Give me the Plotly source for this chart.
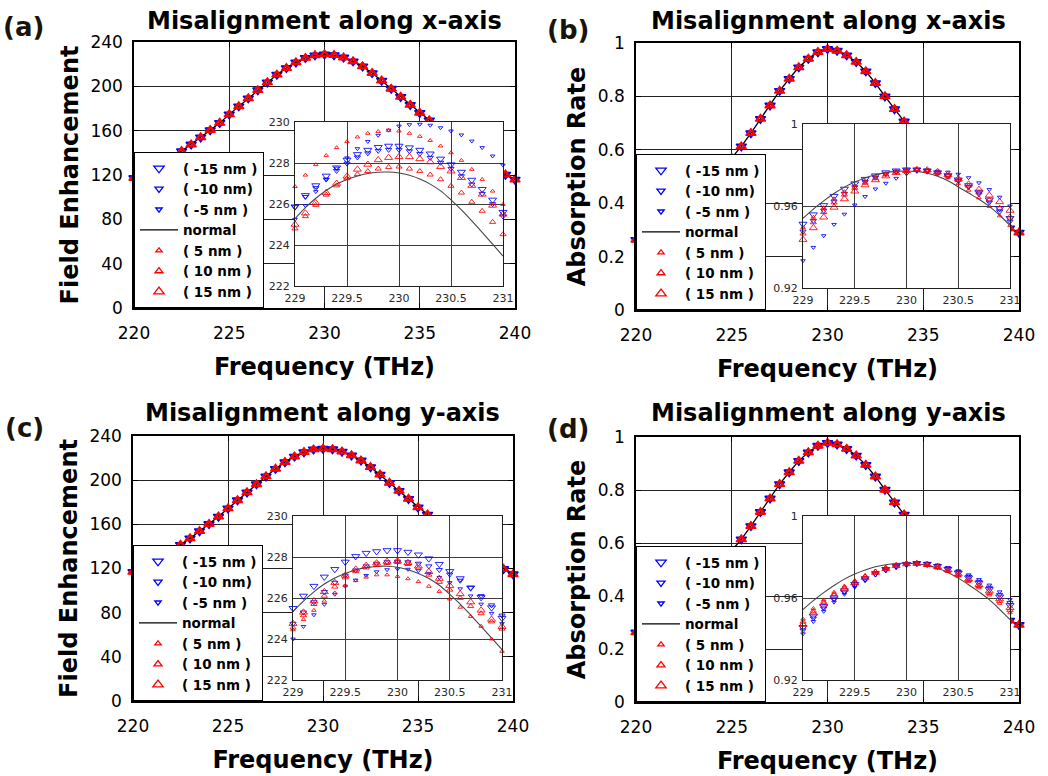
import plotly.graph_objects as go

W, H = 1048, 776
FONT = "DejaVu Sans"

# ---------------- data ----------------
freq_main = [220.0, 220.5, 221.0, 221.5, 222.0, 222.5, 223.0, 223.5, 224.0, 224.5,
             225.0, 225.5, 226.0, 226.5, 227.0, 227.5, 228.0, 228.5, 229.0, 229.5,
             230.0, 230.5, 231.0, 231.5, 232.0, 232.5, 233.0, 233.5, 234.0, 234.5,
             235.0, 235.5, 236.0, 236.5, 237.0, 237.5, 238.0, 238.5, 239.0, 239.5, 240.0]

freq_inset = [229.0, 229.1, 229.2, 229.3, 229.4, 229.5, 229.6, 229.7, 229.8, 229.9,
              230.0, 230.1, 230.2, 230.3, 230.4, 230.5, 230.6, 230.7, 230.8, 230.9, 231.0]

series_names = ["( -15 nm )", "( -10 nm)", "( -5 nm )", "normal", "( 5 nm )", "( 10 nm )", "( 15 nm )"]

# (a) field enhancement, x misalignment - main curve
fe_x_main = [117.3, 121.0, 125.5, 130.5, 136.0, 141.6, 147.5, 154.0, 160.5, 167.0,
             174.7, 182.0, 189.2, 196.5, 203.6, 210.5, 216.5, 221.6, 225.6, 228.0,
             228.8, 228.2, 226.0, 222.6, 218.0, 212.0, 205.1, 197.8, 190.5, 183.3,
             176.0, 169.3, 162.8, 156.2, 149.6, 143.0, 136.8, 130.8, 125.2, 120.3, 115.8]
# (c) field enhancement, y misalignment - main curve
fe_y_main = [117.0, 120.8, 125.3, 130.3, 135.8, 141.4, 147.3, 153.8, 160.3, 167.0,
             174.4, 181.8, 189.0, 196.3, 203.4, 210.3, 216.3, 221.4, 225.4, 227.8,
             228.5, 228.0, 225.8, 222.4, 217.8, 211.8, 205.0, 197.6, 190.3, 183.0,
             175.4, 168.8, 162.3, 155.8, 149.2, 142.6, 136.4, 130.4, 124.8, 119.6, 114.8]
# (b) absorption, x misalignment - main curve
ar_x_main = [0.2625, 0.282, 0.304, 0.328, 0.354, 0.383, 0.415, 0.450, 0.487, 0.527,
             0.569, 0.6125, 0.6625, 0.716, 0.766, 0.821, 0.866, 0.909, 0.941, 0.966,
             0.9775, 0.971, 0.954, 0.929, 0.894, 0.850, 0.800, 0.7525, 0.706, 0.660,
             0.613, 0.568, 0.525, 0.485, 0.449, 0.415, 0.385, 0.356, 0.330, 0.306, 0.290]
# (d) absorption, y misalignment - main curve
ar_y_main = [0.263, 0.283, 0.305, 0.329, 0.355, 0.384, 0.416, 0.451, 0.489, 0.529,
             0.571, 0.614, 0.664, 0.717, 0.768, 0.822, 0.867, 0.910, 0.942, 0.967,
             0.978, 0.972, 0.955, 0.930, 0.895, 0.851, 0.801, 0.753, 0.707, 0.661,
             0.614, 0.569, 0.526, 0.486, 0.450, 0.416, 0.386, 0.357, 0.331, 0.307, 0.291]

# ---- inset (a) ----
fx_in_m15 = [225.87, 226.42, 226.90, 227.37, 227.77, 228.15, 228.42, 228.63, 228.77, 228.83, 228.83,
             228.75, 228.63, 228.45, 228.20, 227.92, 227.56, 227.17, 226.72, 226.20, 225.60]
fx_in_m10 = [225.85, 226.35, 226.78, 227.20, 227.62, 227.98, 228.28, 228.48, 228.60, 228.65, 228.65,
             228.58, 228.45, 228.26, 228.02, 227.72, 227.36, 226.96, 226.50, 226.00, 225.40]
fx_in_m5 = [225.25, 225.92, 226.60, 227.20, 227.75, 228.25, 228.70, 229.05, 229.35, 229.60, 229.80,
            229.87, 229.89, 229.84, 229.72, 229.56, 229.37, 229.07, 228.75, 228.34, 227.90]
fx_in_p5 = [226.85, 227.41, 227.92, 228.37, 228.75, 229.04, 229.27, 229.45, 229.54, 229.59, 229.56,
            229.45, 229.30, 229.10, 228.83, 228.50, 228.13, 227.69, 227.20, 226.63, 225.98]
fx_in_p10 = [224.80, 225.40, 225.95, 226.45, 226.90, 227.25, 227.45, 227.60, 227.72, 227.80, 227.82,
             227.72, 227.60, 227.43, 227.20, 226.88, 226.55, 226.10, 225.66, 225.12, 224.52]
fx_in_p15 = [225.00, 225.55, 226.05, 226.55, 227.00, 227.35, 227.69, 227.93, 228.15, 228.26, 228.30,
             228.30, 228.20, 228.05, 227.82, 227.60, 227.28, 226.90, 226.47, 225.93, 225.50]
fx_in_norm = [225.28, 225.82, 226.28, 226.66, 226.97, 227.20, 227.37, 227.49, 227.55, 227.56, 227.51,
              227.40, 227.22, 226.97, 226.64, 226.20, 225.71, 225.18, 224.62, 224.04, 223.46]

# ---- inset (b) ----
ax_in_m15 = [0.9512, 0.9558, 0.9603, 0.9648, 0.9683, 0.9709, 0.9731, 0.9748, 0.9763, 0.9772, 0.9777,
             0.9777, 0.9772, 0.9763, 0.9749, 0.9728, 0.9700, 0.9668, 0.9630, 0.9588, 0.9540]
ax_in_m10 = [0.9476, 0.9528, 0.9577, 0.9622, 0.9660, 0.9692, 0.9718, 0.9739, 0.9756, 0.9768, 0.9775,
             0.9777, 0.9773, 0.9762, 0.9746, 0.9723, 0.9693, 0.9658, 0.9618, 0.9573, 0.9525]
ax_in_m5 = [0.9333, 0.9398, 0.9455, 0.9510, 0.9560, 0.9605, 0.9646, 0.9683, 0.9711, 0.9735, 0.9757,
            0.9770, 0.9772, 0.9770, 0.9765, 0.9755, 0.9738, 0.9713, 0.9680, 0.9643, 0.9600]
ax_in_p5 = [0.9495, 0.9545, 0.9592, 0.9635, 0.9670, 0.9700, 0.9724, 0.9743, 0.9759, 0.9770, 0.9776,
            0.9777, 0.9770, 0.9757, 0.9737, 0.9710, 0.9677, 0.9640, 0.9598, 0.9552, 0.9505]
ax_in_p10 = [0.9465, 0.9520, 0.9570, 0.9617, 0.9655, 0.9688, 0.9713, 0.9735, 0.9753, 0.9766, 0.9773,
             0.9776, 0.9772, 0.9762, 0.9747, 0.9726, 0.9698, 0.9666, 0.9630, 0.9590, 0.9548]
ax_in_p15 = [0.9436, 0.9493, 0.9545, 0.9593, 0.9634, 0.9672, 0.9702, 0.9727, 0.9746, 0.9762, 0.9772,
             0.9777, 0.9775, 0.9767, 0.9753, 0.9732, 0.9706, 0.9680, 0.9652, 0.9620, 0.9578]
ax_in_norm = [0.9540, 0.9585, 0.9625, 0.9661, 0.9692, 0.9717, 0.9737, 0.9752, 0.9763, 0.9769, 0.9771,
              0.9768, 0.9760, 0.9745, 0.9723, 0.9693, 0.9663, 0.9633, 0.9598, 0.9555, 0.9505]

# ---- inset (c) ----
fy_in_m15 = [225.50, 226.10, 226.58, 227.03, 227.40, 227.76, 228.03, 228.19, 228.27, 228.32, 228.32,
             228.24, 228.11, 227.92, 227.65, 227.30, 226.95, 226.50, 226.03, 225.53, 225.02]
fy_in_m10 = [224.75, 225.30, 225.80, 226.30, 226.75, 227.10, 227.35, 227.55, 227.68, 227.75, 227.78,
             227.75, 227.68, 227.55, 227.37, 227.15, 226.85, 226.50, 226.10, 225.65, 225.15]
fy_in_m5 = [224.00, 224.61, 225.18, 225.69, 226.18, 226.58, 226.87, 227.10, 227.28, 227.38, 227.42,
            227.40, 227.33, 227.20, 227.00, 226.75, 226.45, 226.10, 225.70, 225.25, 224.75]
fy_in_p5 = [224.45, 224.95, 225.40, 225.85, 226.25, 226.60, 226.85, 227.02, 227.13, 227.13, 227.05,
            226.94, 226.80, 226.57, 226.32, 225.95, 225.55, 225.10, 224.62, 224.00, 223.40]
fy_in_p10 = [224.55, 225.15, 225.70, 226.10, 226.55, 227.00, 227.30, 227.48, 227.60, 227.70, 227.75,
             227.65, 227.46, 227.13, 226.78, 226.40, 226.00, 225.60, 225.25, 224.85, 224.50]
fy_in_p15 = [224.75, 225.30, 225.85, 226.30, 226.75, 227.10, 227.40, 227.58, 227.70, 227.78, 227.80,
             227.72, 227.55, 227.28, 226.95, 226.60, 226.20, 225.80, 225.40, 224.95, 224.60]
fy_in_norm = [225.34, 225.85, 226.30, 226.68, 226.98, 227.20, 227.37, 227.48, 227.54, 227.55, 227.50,
              227.38, 227.20, 226.95, 226.62, 226.18, 225.70, 225.17, 224.62, 224.05, 223.48]

# ---- inset (d) ----
ay_in_m15 = [0.9457, 0.9513, 0.9560, 0.9601, 0.9636, 0.9667, 0.9695, 0.9720, 0.9740, 0.9755, 0.9765,
             0.9769, 0.9765, 0.9755, 0.9741, 0.9722, 0.9699, 0.9673, 0.9642, 0.9606, 0.9564]
ay_in_m10 = [0.9443, 0.9501, 0.9549, 0.9592, 0.9628, 0.9661, 0.9690, 0.9717, 0.9738, 0.9753, 0.9764,
             0.9770, 0.9767, 0.9757, 0.9744, 0.9727, 0.9705, 0.9680, 0.9651, 0.9616, 0.9576]
ay_in_m5 = [0.9425, 0.9485, 0.9535, 0.9580, 0.9618, 0.9653, 0.9684, 0.9712, 0.9734, 0.9751, 0.9763,
            0.9771, 0.9769, 0.9761, 0.9749, 0.9733, 0.9713, 0.9690, 0.9663, 0.9630, 0.9592]
ay_in_p5 = [0.9497, 0.9549, 0.9591, 0.9628, 0.9658, 0.9685, 0.9710, 0.9731, 0.9748, 0.9761, 0.9768,
            0.9766, 0.9759, 0.9747, 0.9730, 0.9707, 0.9681, 0.9650, 0.9615, 0.9574, 0.9528]
ay_in_p10 = [0.9484, 0.9537, 0.9581, 0.9619, 0.9651, 0.9679, 0.9705, 0.9728, 0.9746, 0.9759, 0.9767,
             0.9767, 0.9761, 0.9749, 0.9733, 0.9712, 0.9687, 0.9658, 0.9624, 0.9585, 0.9540]
ay_in_p15 = [0.9470, 0.9525, 0.9570, 0.9610, 0.9643, 0.9673, 0.9700, 0.9724, 0.9743, 0.9757, 0.9766,
             0.9768, 0.9763, 0.9752, 0.9737, 0.9717, 0.9693, 0.9665, 0.9633, 0.9595, 0.9552]
ay_in_norm = [0.9544, 0.9587, 0.9626, 0.9661, 0.9692, 0.9717, 0.9737, 0.9752, 0.9762, 0.9768, 0.9770,
              0.9767, 0.9759, 0.9745, 0.9724, 0.9697, 0.9665, 0.9630, 0.9592, 0.9545, 0.9495]

# ---------------- styling ----------------
BLUE = "rgb(0,0,255)"
RED = "rgb(255,0,0)"
sym = ["triangle-down-open"] * 3 + [None] + ["triangle-up-open"] * 3
col = [BLUE] * 3 + ["black"] + [RED] * 3
size_main = [9, 7, 5.5, None, 5.5, 7, 9]
size_in = [7, 5.4, 4, None, 4, 5.4, 7]

panels = [
    dict(main=fe_x_main, ins=[fx_in_m15, fx_in_m10, fx_in_m5, fx_in_norm, fx_in_p5, fx_in_p10, fx_in_p15],
         mbox=(134, 515, 42, 308), ibox=(295, 503, 122, 286), leg="legend",
         yr=[0, 240], ydt=40, iyr=[222, 230], iydt=2, ytitle="Field Enhancement",
         title="Misalignment along x-axis", label="(a)", title_xy=(324, 21), label_xy=(23, 27)),
    dict(main=ar_x_main, ins=[ax_in_m15, ax_in_m10, ax_in_m5, ax_in_norm, ax_in_p5, ax_in_p10, ax_in_p15],
         mbox=(636, 1019, 43, 310), ibox=(803, 1010, 124, 288), leg="legend2",
         yr=[0, 1], ydt=0.2, iyr=[0.92, 1.0], iydt=0.04, ytitle="Absorption Rate",
         title="Misalignment along x-axis", label="(b)", title_xy=(828, 21), label_xy=(568, 30)),
    dict(main=fe_y_main, ins=[fy_in_m15, fy_in_m10, fy_in_m5, fy_in_norm, fy_in_p5, fy_in_p10, fy_in_p15],
         mbox=(133, 513, 436, 701), ibox=(293, 502, 516, 680), leg="legend3",
         yr=[0, 240], ydt=40, iyr=[222, 230], iydt=2, ytitle="Field Enhancement",
         title="Misalignment along y-axis", label="(c)", title_xy=(322, 413), label_xy=(24, 428)),
    dict(main=ar_y_main, ins=[ay_in_m15, ay_in_m10, ay_in_m5, ay_in_norm, ay_in_p5, ay_in_p10, ay_in_p15],
         mbox=(636, 1019, 437, 702), ibox=(803, 1010, 516, 680), leg="legend4",
         yr=[0, 1], ydt=0.2, iyr=[0.92, 1.0], iydt=0.04, ytitle="Absorption Rate",
         title="Misalignment along y-axis", label="(d)", title_xy=(828, 413), label_xy=(568, 429)),
]


def dx(a, b):
    return [a / W, b / W]


def dy(top, bottom):
    return [1 - bottom / H, 1 - top / H]


fig = go.Figure()
layout = {}
annotations = []

for i, p in enumerate(panels):
    mi, ii = 2 * i + 1, 2 * i + 2
    mx = "x" if mi == 1 else f"x{mi}"
    my = "y" if mi == 1 else f"y{mi}"
    ix, iy = f"x{ii}", f"y{ii}"

    # main traces
    for k in range(7):
        if sym[k] is None:
            fig.add_trace(go.Scatter(x=freq_main, y=p["main"], mode="lines", name=series_names[k],
                                     line=dict(color="black", width=1.3), xaxis=mx, yaxis=my,
                                     legend=p["leg"], cliponaxis=False))
        else:
            fig.add_trace(go.Scatter(x=freq_main, y=p["main"], mode="markers", name=series_names[k],
                                     marker=dict(symbol=sym[k], size=size_main[k], color=col[k],
                                                 line=dict(width=1.3, color=col[k])),
                                     xaxis=mx, yaxis=my, legend=p["leg"], cliponaxis=False))
    # inset traces
    for k in range(7):
        if sym[k] is None:
            fig.add_trace(go.Scatter(x=freq_inset, y=p["ins"][k], mode="lines", name=series_names[k],
                                     line=dict(color="rgb(70,70,70)", width=1.1, shape="spline"),
                                     xaxis=ix, yaxis=iy, showlegend=False))
        else:
            fig.add_trace(go.Scatter(x=freq_inset, y=p["ins"][k], mode="markers", name=series_names[k],
                                     marker=dict(symbol=sym[k], size=size_in[k], color=col[k], opacity=0.85,
                                                 line=dict(width=1.0, color=col[k])),
                                     xaxis=ix, yaxis=iy, showlegend=False, cliponaxis=False))

    x0, x1, y0, y1 = p["mbox"]
    common_main = dict(showline=True, linecolor="black", linewidth=1.5, mirror="ticks",
                       ticks="inside", ticklen=5, tickwidth=1, tickcolor="black",
                       showgrid=True, gridcolor="rgb(35,35,35)", gridwidth=1, zeroline=False,
                       automargin=False,
                       tickfont=dict(family=FONT, size=17, color="black"))
    layout["xaxis" if mi == 1 else f"xaxis{mi}"] = dict(
        common_main, domain=dx(x0, x1), range=[220, 240], tick0=220, dtick=5, anchor=my,
        ticklabelstandoff=9,
        title=dict(text="Frequency (THz)", standoff=16,
                   font=dict(family=FONT, size=24, color="black", weight="bold")))
    layout["yaxis" if mi == 1 else f"yaxis{mi}"] = dict(
        common_main, domain=dy(y0, y1), range=p["yr"], tick0=0, dtick=p["ydt"], anchor=mx,
        ticklabelstandoff=6,
        title=dict(text=p["ytitle"], standoff=5,
                   font=dict(family=FONT, size=24, color="black", weight="bold")))

    a0, a1, b0, b1 = p["ibox"]
    common_in = dict(showline=True, linecolor="rgb(30,30,30)", linewidth=1, mirror=True,
                     ticks="", showgrid=True, gridcolor="rgb(60,60,60)", gridwidth=1, zeroline=False,
                     automargin=False,
                     tickfont=dict(family=FONT, size=11, color="rgb(40,40,40)"))
    layout[f"xaxis{ii}"] = dict(common_in, domain=dx(a0, a1), range=[229, 231], tick0=229, dtick=0.5,
                                anchor=iy, ticklabelstandoff=2)
    layout[f"yaxis{ii}"] = dict(common_in, domain=dy(b0, b1), range=p["iyr"], dtick=p["iydt"],
                                tick0=p["iyr"][0], anchor=ix, ticklabelstandoff=2)

    layout[p["leg"]] = dict(x=x0 / W, y=1 - y1 / H, xanchor="left", yanchor="bottom",
                            bgcolor="white", bordercolor="black", borderwidth=1,
                            font=dict(family=FONT, size=13.5, color="black", weight="bold"),
                            itemsizing="trace", itemwidth=38, tracegroupgap=0, traceorder="normal")

    annotations.append(dict(text=p["title"], x=p["title_xy"][0] / W, y=1 - p["title_xy"][1] / H,
                            xref="paper", yref="paper", xanchor="center", yanchor="middle",
                            showarrow=False, font=dict(family=FONT, size=24, color="black", weight="bold")))
    annotations.append(dict(text=p["label"], x=p["label_xy"][0] / W, y=1 - p["label_xy"][1] / H,
                            xref="paper", yref="paper", xanchor="center", yanchor="middle",
                            showarrow=False, font=dict(family=FONT, size=26, color="rgb(25,20,10)", weight="bold")))

fig.update_layout(**layout)
fig.update_layout(width=W, height=H, margin=dict(l=0, r=0, t=0, b=0, autoexpand=False),
                  paper_bgcolor="white", plot_bgcolor="white",
                  annotations=annotations, showlegend=True)

fig.write_html("out.html")
